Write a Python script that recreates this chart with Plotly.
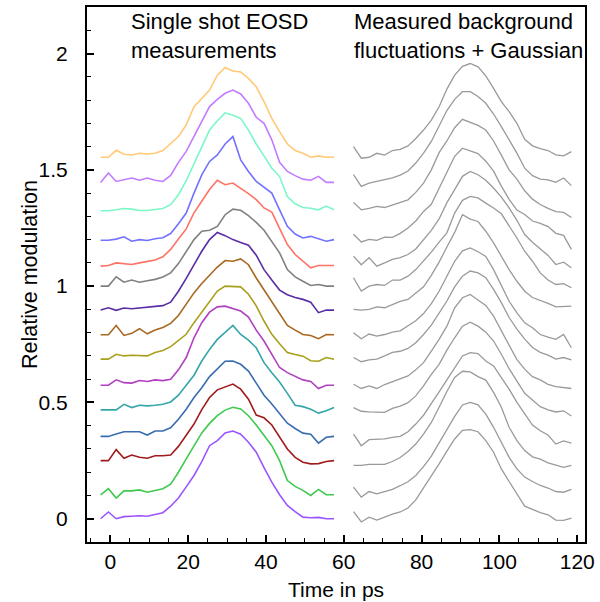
import plotly.graph_objects as go

# ---- data ----
x_left = [-2.5 + 2 * k for k in range(31)]
x_right = [62.5 + 2 * k for k in range(29)]

# vertical offsets of the stacked traces (bottom -> top)
offsets = [0.000, 0.103, 0.250, 0.354, 0.468, 0.574, 0.686, 0.791,
           0.897, 1.000, 1.089, 1.197, 1.324, 1.446, 1.554]

left_colors = ["#9b55ff", "#3fc94f", "#a01c1c", "#3a6db0", "#35a5a8",
               "#b040c0", "#a8a01c", "#a86820", "#5a2ca6", "#808080",
               "#ff7265", "#7272ff", "#7cf7c8", "#c27cff", "#ffc977"]

# single shot EOSD measurements (signal above each offset)
eosd = [
    [0, 0.029, 0, 0.009, 0.011, 0.013, 0.011, 0.02, 0.026, 0.054, 0.089, 0.137, 0.186, 0.246, 0.314, 0.336, 0.369, 0.377, 0.363, 0.329, 0.286, 0.22, 0.157, 0.103, 0.057, 0.031, 0.007, 0.004, 0.006, 0, 0],
    [0, 0.026, -0.014, 0.017, 0.017, 0.021, 0.011, 0.017, 0.026, 0.046, 0.097, 0.154, 0.211, 0.266, 0.307, 0.34, 0.364, 0.376, 0.369, 0.34, 0.3, 0.254, 0.211, 0.147, 0.061, 0.036, 0.019, -0.003, 0.023, 0, 0],
    [0, 0, 0.047, 0.01, 0.024, 0.014, 0.01, 0.021, 0.021, 0.024, 0.061, 0.11, 0.157, 0.219, 0.271, 0.304, 0.317, 0.329, 0.307, 0.264, 0.196, 0.184, 0.153, 0.1, 0.05, 0.014, -0.007, -0.014, -0.013, -0.004, 0],
    [0, 0, 0.01, 0.02, 0.02, 0.02, 0.006, 0.023, 0.023, 0.037, 0.074, 0.117, 0.167, 0.209, 0.257, 0.291, 0.323, 0.324, 0.31, 0.281, 0.229, 0.177, 0.139, 0.096, 0.057, 0.034, 0.014, 0.009, -0.029, -0.004, 0],
    [0, 0, 0, 0.024, 0.01, 0.02, 0.017, 0.02, 0.024, 0.034, 0.063, 0.106, 0.149, 0.21, 0.26, 0.303, 0.331, 0.363, 0.324, 0.3, 0.267, 0.203, 0.16, 0.12, 0.071, 0.02, 0.014, 0.003, -0.014, -0.004, 0.01],
    [0, 0, 0.023, 0.011, 0.009, 0.02, 0.016, 0.023, 0.02, 0.026, 0.066, 0.119, 0.204, 0.269, 0.314, 0.337, 0.34, 0.329, 0.319, 0.293, 0.237, 0.19, 0.13, 0.076, 0.054, 0.037, 0.023, 0.016, -0.014, 0, 0],
    [0, 0, 0.021, 0.014, 0.017, 0.014, 0.014, 0.029, 0.037, 0.054, 0.079, 0.107, 0.157, 0.203, 0.25, 0.293, 0.314, 0.314, 0.311, 0.279, 0.229, 0.164, 0.107, 0.066, 0.029, 0.02, 0.013, -0.007, -0.009, 0.007, 0],
    [0, 0, 0.04, -0.003, 0.006, 0.026, 0.004, 0.02, 0.031, 0.049, 0.083, 0.13, 0.18, 0.22, 0.254, 0.291, 0.319, 0.316, 0.326, 0.301, 0.244, 0.194, 0.144, 0.094, 0.04, 0.02, 0.001, -0.003, -0.017, 0.001, 0],
    [0, 0.01, -0.001, 0.009, 0.006, 0.009, 0.01, 0.014, 0.019, 0.034, 0.081, 0.136, 0.196, 0.253, 0.303, 0.334, 0.32, 0.303, 0.291, 0.279, 0.236, 0.174, 0.129, 0.086, 0.066, 0.054, 0.046, 0.034, -0.011, 0, 0],
    [0, 0, 0.04, 0.017, 0.026, 0.017, 0.023, 0.029, 0.039, 0.057, 0.097, 0.15, 0.2, 0.236, 0.24, 0.257, 0.307, 0.331, 0.326, 0.303, 0.274, 0.24, 0.193, 0.143, 0.071, 0.04, 0.021, 0.003, 0.007, 0, 0],
    [-0.003, 0, 0.011, 0.009, 0.004, 0.011, 0.016, 0.023, 0.037, 0.069, 0.114, 0.157, 0.226, 0.276, 0.326, 0.366, 0.347, 0.354, 0.333, 0.309, 0.283, 0.247, 0.229, 0.161, 0.09, 0.047, 0.019, -0.01, 0, 0, 0],
    [0, 0, 0.005, 0.015, -0.004, 0.003, -0.001, 0.007, 0.011, 0.029, 0.071, 0.117, 0.203, 0.281, 0.339, 0.367, 0.414, 0.446, 0.346, 0.296, 0.253, 0.229, 0.203, 0.131, 0.06, 0.027, 0.01, 0.017, 0.007, -0.004, 0.003],
    [0, 0, 0.004, 0.01, 0.007, 0.001, 0.001, 0.007, 0.01, 0.026, 0.069, 0.129, 0.204, 0.276, 0.347, 0.387, 0.421, 0.411, 0.397, 0.347, 0.287, 0.236, 0.183, 0.147, 0.061, 0.03, 0.014, 0.011, 0.004, 0.02, 0.004],
    [0, 0.04, 0.004, 0.011, 0.019, 0.009, 0.019, 0.009, 0.004, 0.03, 0.086, 0.133, 0.197, 0.261, 0.326, 0.357, 0.383, 0.397, 0.38, 0.34, 0.28, 0.254, 0.183, 0.086, 0.047, 0.029, 0.014, 0.009, 0.026, 0, 0],
    [0, 0, 0.03, 0.013, 0.01, 0.017, 0.014, 0.017, 0.029, 0.057, 0.089, 0.139, 0.217, 0.253, 0.289, 0.353, 0.386, 0.371, 0.367, 0.339, 0.303, 0.239, 0.167, 0.11, 0.057, 0.029, 0.017, 0, 0.006, 0, 0],
]

# measured background fluctuations + Gaussian (signal above each offset)
background = [
    [0.031, -0.014, 0.007, -0.006, 0.007, 0.02, 0.029, 0.046, 0.081, 0.131, 0.186, 0.236, 0.291, 0.343, 0.38, 0.383, 0.374, 0.336, 0.286, 0.214, 0.16, 0.107, 0.054, 0.04, 0.026, 0.017, -0.006, -0.007, 0.003],
    [0.033, -0.01, 0.014, 0.004, 0.014, 0.023, 0.039, 0.056, 0.083, 0.121, 0.166, 0.223, 0.28, 0.337, 0.386, 0.397, 0.387, 0.347, 0.29, 0.226, 0.161, 0.111, 0.076, 0.057, 0.04, 0.029, 0.014, 0.011, 0.023],
    [-0.021, -0.021, -0.016, -0.016, -0.016, -0.004, 0.013, 0.039, 0.071, 0.114, 0.164, 0.229, 0.297, 0.357, 0.384, 0.381, 0.361, 0.346, 0.293, 0.229, 0.143, 0.086, 0.043, 0.016, 0.006, -0.01, -0.019, -0.029, -0.021],
    [0.01, -0.04, -0.014, -0.011, -0.011, -0.004, 0, 0.02, 0.053, 0.091, 0.139, 0.191, 0.243, 0.296, 0.346, 0.36, 0.356, 0.324, 0.303, 0.253, 0.203, 0.146, 0.096, 0.049, 0.024, 0.006, -0.033, -0.019, -0.029],
    [0.01, -0.006, -0.009, -0.009, -0.011, 0.006, 0.016, 0.031, 0.06, 0.103, 0.153, 0.196, 0.257, 0.31, 0.36, 0.377, 0.36, 0.334, 0.296, 0.239, 0.177, 0.124, 0.071, 0.043, 0.014, 0, -0.009, -0.004, -0.026],
    [0.004, -0.014, -0.003, -0.014, 0.003, 0.016, 0.026, 0.04, 0.066, 0.097, 0.147, 0.197, 0.254, 0.333, 0.376, 0.39, 0.366, 0.343, 0.297, 0.233, 0.171, 0.11, 0.069, 0.037, 0.023, 0.004, -0.006, -0.01, -0.014],
    [0.007, -0.011, -0.003, 0, 0.014, 0.029, 0.034, 0.046, 0.071, 0.106, 0.146, 0.197, 0.25, 0.311, 0.357, 0.379, 0.371, 0.35, 0.3, 0.243, 0.179, 0.129, 0.086, 0.05, 0.029, 0.017, 0, 0.007, -0.003],
    [0.009, -0.017, 0.003, -0.006, 0.001, 0.011, 0.017, 0.037, 0.06, 0.091, 0.134, 0.187, 0.249, 0.316, 0.361, 0.373, 0.357, 0.337, 0.28, 0.211, 0.144, 0.094, 0.051, 0.03, 0.001, -0.01, -0.02, 0.001, -0.056],
    [0.003, 0, 0.003, 0.014, 0.01, 0.023, 0.037, 0.046, 0.071, 0.1, 0.149, 0.206, 0.271, 0.334, 0.41, 0.391, 0.381, 0.339, 0.289, 0.229, 0.174, 0.124, 0.081, 0.054, 0.043, 0.029, 0.014, 0.017, 0.017],
    [0.036, -0.021, 0, 0.007, 0.003, 0.026, 0.026, 0.043, 0.071, 0.107, 0.146, 0.189, 0.229, 0.314, 0.369, 0.386, 0.379, 0.357, 0.336, 0.311, 0.26, 0.207, 0.15, 0.107, 0.057, 0.026, 0.007, 0.011, -0.007],
    [0.04, 0.003, 0.033, -0.003, 0.011, 0.026, 0.034, 0.047, 0.071, 0.111, 0.151, 0.2, 0.27, 0.326, 0.383, 0.404, 0.39, 0.366, 0.333, 0.294, 0.247, 0.194, 0.133, 0.1, 0.071, 0.043, 0.004, 0.014, -0.01],
    [0.026, -0.007, 0.004, 0, 0.014, 0.013, 0.03, 0.053, 0.083, 0.124, 0.155, 0.226, 0.297, 0.361, 0.396, 0.384, 0.373, 0.34, 0.297, 0.233, 0.176, 0.13, 0.111, 0.083, 0.073, 0.059, 0.03, 0.021, -0.039],
    [0.036, 0.004, 0.01, 0.019, 0.014, 0.024, 0.036, 0.047, 0.079, 0.119, 0.176, 0.25, 0.3, 0.357, 0.393, 0.381, 0.367, 0.347, 0.3, 0.239, 0.176, 0.136, 0.086, 0.05, 0.027, 0.01, -0.004, -0.007, -0.029],
    [0.033, -0.017, -0.003, 0.004, 0.014, 0.019, 0.031, 0.049, 0.083, 0.126, 0.176, 0.24, 0.309, 0.357, 0.39, 0.39, 0.369, 0.34, 0.294, 0.24, 0.183, 0.126, 0.061, 0.029, 0.014, 0.011, 0, 0.019, -0.014],
    [0.046, -0.004, 0, 0.017, 0.009, 0.029, 0.034, 0.049, 0.081, 0.117, 0.16, 0.217, 0.293, 0.353, 0.391, 0.403, 0.389, 0.35, 0.296, 0.239, 0.196, 0.146, 0.077, 0.049, 0.037, 0.029, 0.01, 0.006, 0.024],
]

x_ticks = [0, 20, 40, 60, 80, 100, 120]
y_ticks = [0, 0.5, 1, 1.5, 2]
y_ticklabels = ["0", "0.5", "1", "1.5", "2"]

FONT = "Liberation Sans, Arial, Helvetica, sans-serif"

fig = go.Figure()

for off, sig in zip(offsets, background):
    fig.add_trace(go.Scatter(
        x=x_right, y=[off + v for v in sig], mode="lines",
        line=dict(color="#9a9a9a", width=1.3), showlegend=False, hoverinfo="skip"))

for off, sig, col in zip(offsets, eosd, left_colors):
    fig.add_trace(go.Scatter(
        x=x_left, y=[off + v for v in sig], mode="lines",
        line=dict(color=col, width=1.6), showlegend=False, hoverinfo="skip"))

axis_common = dict(
    showline=True, linecolor="black", linewidth=2, mirror=True,
    showgrid=False, zeroline=False,
    ticks="inside", ticklen=7, tickwidth=2, tickcolor="black",
    tickfont=dict(family=FONT, size=21, color="black"),
)

fig.update_xaxes(
    range=[-6, 122], tickmode="array", tickvals=x_ticks,
    ticklabelstandoff=0,
    minor=dict(dtick=5, tick0=0, ticks="inside", ticklen=4, tickwidth=1,
               tickcolor="black", showgrid=False),
    **axis_common)
fig.update_yaxes(
    range=[-0.1, 2.2], tickmode="array", tickvals=y_ticks, ticktext=y_ticklabels,
    ticklabelstandoff=13,
    minor=dict(dtick=0.1, tick0=0, ticks="inside", ticklen=4, tickwidth=1,
               tickcolor="black", showgrid=False),
    **axis_common)

fig.add_annotation(text="Single shot EOSD<br>measurements", x=4.7, y=2.2,
                   xref="x", yref="y", xanchor="left", yanchor="top",
                   align="left", showarrow=False,
                   font=dict(family=FONT, size=22, color="black"))
fig.add_annotation(text="Measured background<br>fluctuations + Gaussian", x=62.0, y=2.2,
                   xref="x", yref="y", xanchor="left", yanchor="top",
                   align="left", showarrow=False,
                   font=dict(family=FONT, size=22, color="black"))

# axis titles
fig.add_annotation(text="Time in ps", x=0.5, y=-0.089, xref="paper", yref="paper",
                   xanchor="center", yanchor="middle", showarrow=False,
                   font=dict(family=FONT, size=21, color="black"))
fig.add_annotation(text="Relative modulation", x=-0.1155, y=0.5, xref="paper", yref="paper",
                   xanchor="center", yanchor="middle", textangle=-90, showarrow=False,
                   font=dict(family=FONT, size=21.5, color="black"))

fig.update_layout(
    width=600, height=602,
    margin=dict(l=87, r=11, t=5, b=60),
    plot_bgcolor="white", paper_bgcolor="white",
    showlegend=False,
)

fig.write_html("out.html")
